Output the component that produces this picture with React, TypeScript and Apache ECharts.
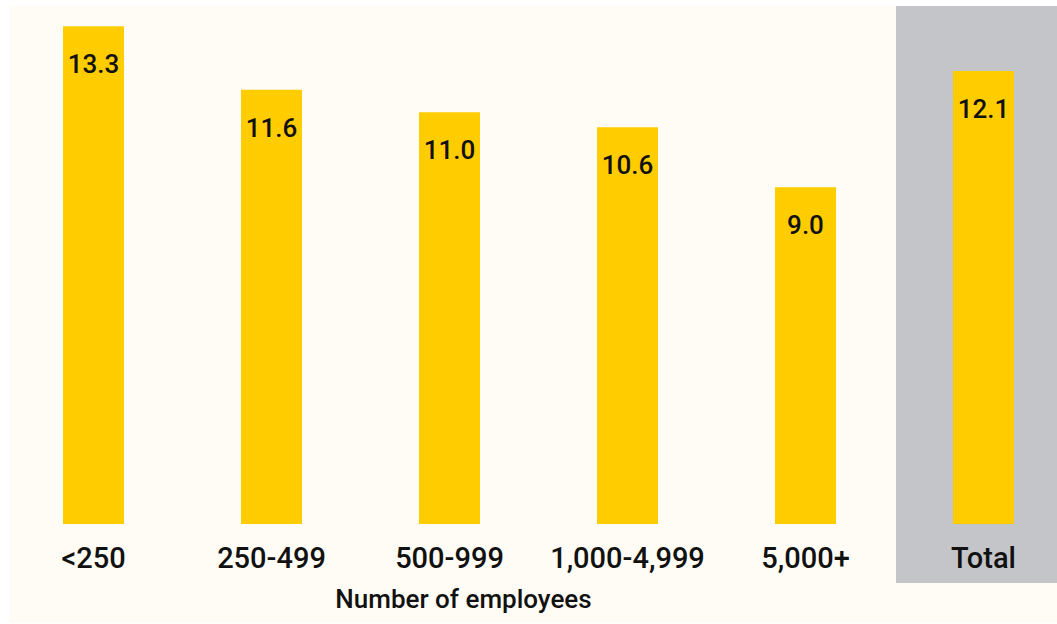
import React, { useEffect, useRef } from "react";
import * as echarts from "echarts";

const categories = ["<250", "250-499", "500-999", "1,000-4,999", "5,000+", "Total"];
const values = [13.3, 11.6, 11.0, 10.6, 9.0, 12.1];
const axisTitle = "Number of employees";

export default function App() {
  const ref = useRef<HTMLDivElement>(null);
  useEffect(() => {
    if (!ref.current) return;
    const chart = echarts.init(ref.current, undefined, { renderer: "svg" });
    const font = "Roboto, 'Noto Sans', sans-serif";
    chart.setOption({
      animation: false,
      backgroundColor: "#ffffff",
      textStyle: { fontFamily: font },
      grid: { left: 4.5, width: 1068, top: 0, bottom: 100, containLabel: false },
      xAxis: {
        type: "category",
        data: categories,
        axisLine: { show: false },
        axisTick: { show: false },
        axisLabel: {
          fontSize: 29,
          fontWeight: 500,
          color: "#111111",
          margin: 19,
          fontFamily: font,
          interval: 0,
        },
      },
      yAxis: {
        type: "value",
        min: 0,
        max: 14,
        show: false,
        splitLine: { show: false },
      },
      graphic: {
        elements: [
          {
            type: "rect",
            z: -100,
            shape: { x: 9, y: 6, width: 1100, height: 617 },
            style: { fill: "#fefcf4" },
            silent: true,
          },
          {
            type: "rect",
            z: -90,
            shape: { x: 896, y: 6, width: 200, height: 577 },
            style: { fill: "#c4c5c9" },
            silent: true,
          },
          {
            type: "text",
            z: 100,
            x: 463.5,
            y: 599,
            style: {
              text: axisTitle,
              fill: "#111111",
              font: `500 26px ${font}`,
              textAlign: "center",
              textVerticalAlign: "middle",
            },
            silent: true,
          },
        ],
      },
      series: [
        {
          type: "bar",
          data: values,
          barWidth: 61,
          itemStyle: { color: "#ffcc00" },
          label: {
            show: true,
            position: "insideTop",
            distance: 25,
            fontSize: 26,
            fontWeight: 500,
            color: "#111111",
            fontFamily: font,
            formatter: (p: any) => Number(p.value).toFixed(1),
          },
        },
      ],
    });
    return () => chart.dispose();
  }, []);
  return (
    <div
      ref={ref}
      style={{ position: "fixed", left: 0, top: 0, width: 1090, height: 624 }}
    />
  );
}
